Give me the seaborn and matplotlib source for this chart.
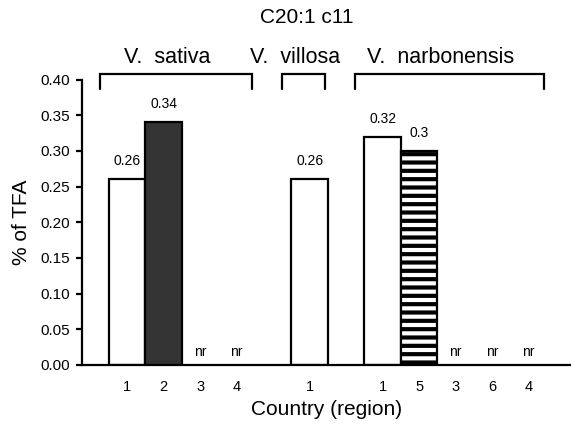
import numpy as np
import pandas as pd
import matplotlib
matplotlib.use("Agg")
import matplotlib.pyplot as plt
import seaborn as sns

# ---- data ------------------------------------------------------------------
title = "C20:1 c11"
species = ["V.  sativa", "V.  villosa", "V.  narbonensis"]
sativa_regions = ["1", "2", "3", "4"]
sativa_vals = [0.26, 0.34, None, None]
villosa_regions = ["1"]
villosa_vals = [0.26]
narb_regions = ["1", "5", "3", "6", "4"]
narb_vals = [0.32, 0.30, None, None, None]
y_ticks = [0.00, 0.05, 0.10, 0.15, 0.20, 0.25, 0.30, 0.35, 0.40]

# bar look by country code
STYLE = {"1": dict(fc="white", hatch=None),
         "2": dict(fc="#333333", hatch=None),
         "5": dict(fc="white", hatch="--")}

sns.set_theme(style="ticks")
plt.rcParams["font.family"] = ["Liberation Sans", "DejaVu Sans"]
plt.rcParams["hatch.linewidth"] = 3.0
plt.rcParams["hatch.color"] = "black"
for k in ("text.color", "axes.labelcolor", "xtick.color", "ytick.color", "axes.edgecolor"):
    plt.rcParams[k] = "black"

# one slot per region, one empty slot between species
rows, spans, pos = [], [], 0
for sp, regs, vals in zip(species, [sativa_regions, villosa_regions, narb_regions],
                          [sativa_vals, villosa_vals, narb_vals]):
    start = pos
    for r, v in zip(regs, vals):
        rows.append(dict(species=sp, region=r, value=v, x=pos))
        pos += 1
    spans.append((sp, start, pos - 1))
    pos += 1
df = pd.DataFrame(rows)
df["value"] = df["value"].astype(float)
bars = df.dropna(subset=["value"])

fig = plt.figure(figsize=(5.71, 4.37), dpi=100)
ax = fig.add_axes([0.1436, 0.1648, 0.8564, 0.6532])

sns.barplot(data=bars, x="x", y="value", native_scale=True, width=1.0,
            color="white", edgecolor="black", linewidth=1.6, errorbar=None, ax=ax)
for patch, (_, r) in zip(ax.patches, bars.iterrows()):
    st = STYLE[r["region"]]
    patch.set_facecolor(st["fc"])
    if st["hatch"]:
        patch.set_hatch(st["hatch"])

for _, r in df.iterrows():
    if np.isnan(r["value"]):
        ax.annotate("nr", (r["x"], 0), xytext=(0, 9), textcoords="offset points",
                    ha="center", va="center", fontsize=10)
    else:
        ax.annotate(f"{r['value']:g}", (r["x"], r["value"]), xytext=(0, 13),
                    textcoords="offset points", ha="center", va="center", fontsize=10)

# species brackets above the plot
for sp, a, b in spans:
    x0, x1 = a - 0.75, b + 0.43
    ax.plot([x0, x0, x1, x1], [0.387, 0.4076, 0.4076, 0.387], color="black",
            lw=1.6, clip_on=False, solid_joinstyle="miter")
    ax.text((x0 + x1) / 2 - 0.25, 0.431, sp, ha="center", va="center", fontsize=15.5)

ax.set_xlim(-1.24, 12.16)
ax.set_ylim(0, 0.40)
ax.set_xticks(df["x"])
ax.set_xticklabels(df["region"], fontsize=10.5)
ax.set_yticks(y_ticks)
ax.set_yticklabels([f"{t:.2f}" for t in y_ticks], fontsize=11)
ax.tick_params(axis="x", length=0, pad=11)
ax.tick_params(axis="y", length=4.3, width=1.6, pad=4)
for s in ("top", "right"):
    ax.spines[s].set_visible(False)
for s in ("left", "bottom"):
    ax.spines[s].set_linewidth(1.6)
ax.set_xlabel("Country (region)", fontsize=15, labelpad=4)
ax.set_ylabel("% of TFA", fontsize=15, labelpad=7)
fig.text(0.537, 0.959, title, ha="center", va="center", fontsize=15)

fig.savefig("out.png", dpi=100)
